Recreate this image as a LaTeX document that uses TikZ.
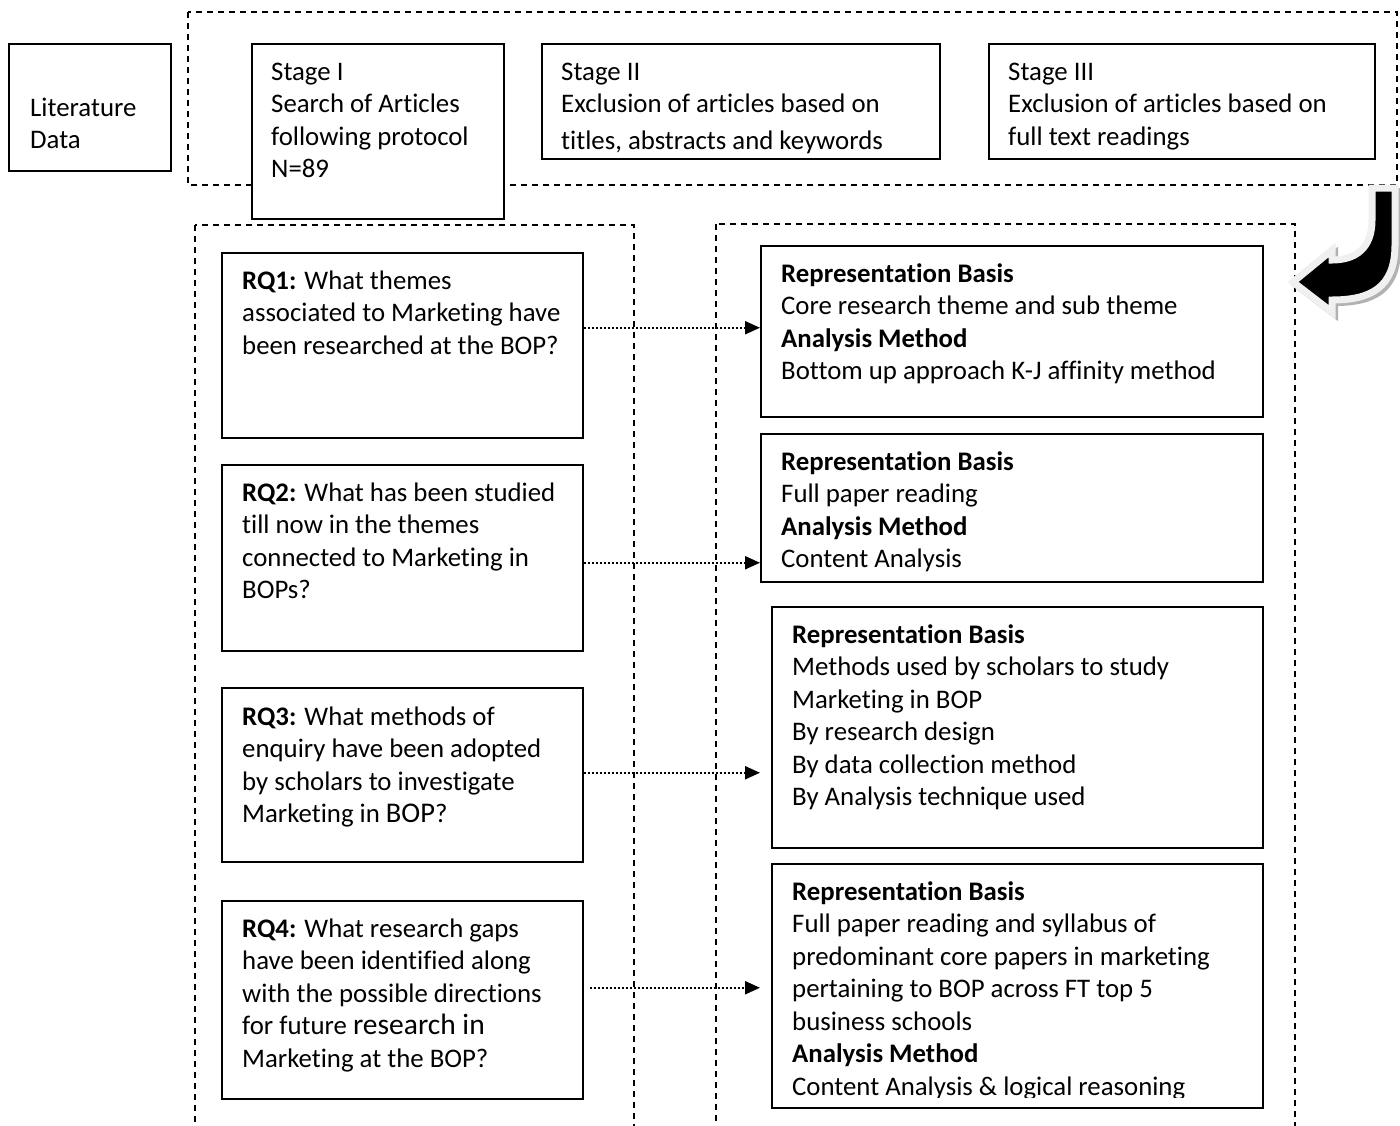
\documentclass[tikz,border=0pt]{standalone}
\usepackage{fontspec}
\setmainfont{Carlito}[Ligatures=NoCommon]
\usetikzlibrary{arrows.meta}

\newcommand{\boxlines}[1]{\begin{tabular}[t]{@{}l@{}}#1\end{tabular}}

\tikzset{
  box/.style={draw, line width=1.5pt, fill=white, anchor=north west, inner sep=0pt},
  txt/.style={anchor=base west, inner sep=0pt, yshift=-2pt, font=\fontsize{26.8}{32.5}\selectfont},
  zone/.style={draw, line width=1.4pt, dash pattern=on 6pt off 5pt},
  dotarrow/.style={line width=2.2pt, dash pattern=on 2pt off 2pt, -{Triangle[length=15pt,width=13pt]}},
}

\begin{document}
\begin{tikzpicture}[x=1pt, y=1pt]
  \useasboundingbox (0,0) rectangle (1400,-1125);

  % dashed zones
  \draw[zone] (188,-12) rectangle (1397,-185);
  \draw[zone] (195,-225) rectangle (634,-1140);
  \draw[zone] (716,-224) rectangle (1295,-1140);

  % top row
  \node[box, minimum width=162, minimum height=127] (lit) at (8,-43) {};
  \node[txt] (littxt) at (30,-114) {\boxlines{Literature\\Data}};
  \node[box, minimum width=252, minimum height=175] (stage1) at (251,-43) {};
  \node[txt] (stage1txt) at (271,-78) {\boxlines{Stage I\\Search of Articles\\following protocol\\N=89}};
  \node[box, minimum width=398, minimum height=115] (stage2) at (541,-43) {};
  \begin{scope}
    \clip (541,-43) rectangle (939,-156);
    \node[txt] (stage2txt) at (561,-78) {\boxlines{Stage II\\Exclusion of articles based on\\[4pt]titles, abstracts and keywords}};
  \end{scope}
  \node[box, minimum width=386, minimum height=115] (stage3) at (988,-43) {};
  \node[txt] (stage3txt) at (1008,-78) {\boxlines{Stage III\\Exclusion of articles based on\\full text readings}};

  % research questions
  \node[box, minimum width=361, minimum height=185] (rq1) at (221,-252) {};
  \node[txt] (rq1txt) at (242,-287) {\boxlines{\textbf{RQ1:} What themes\\associated to Marketing have\\been researched at the BOP?}};
  \node[box, minimum width=361, minimum height=186] (rq2) at (221,-464) {};
  \node[txt] (rq2txt) at (242,-499) {\boxlines{\textbf{RQ2:} What has been studied\\till now in the themes\\connected to Marketing in\\BOPs?}};
  \node[box, minimum width=361, minimum height=174] (rq3) at (221,-687) {};
  \node[txt] (rq3txt) at (242,-723) {\boxlines{\textbf{RQ3:} What methods of\\enquiry have been adopted\\by scholars to investigate\\Marketing in {\fontsize{28.5}{32.5}\selectfont BOP}?}};
  \node[box, minimum width=361, minimum height=198] (rq4) at (221,-900) {};
  \node[txt] (rq4txt) at (242,-935) {\boxlines{\textbf{RQ4:} What research gaps\\have been identified along\\with the possible directions\\for future {\fontsize{29.5}{32.5}\selectfont research in}\\Marketing at the BOP?}};

  % representation / analysis
  \node[box, minimum width=502, minimum height=171] (r1) at (760,-245) {};
  \node[txt] (r1txt) at (781,-280) {\boxlines{\textbf{Representation Basis}\\Core research theme and sub theme\\\textbf{Analysis Method}\\Bottom up approach K-J affinity method}};
  \node[box, minimum width=502, minimum height=148] (r2) at (760,-433) {};
  \node[txt] (r2txt) at (781,-468) {\boxlines{\textbf{Representation Basis}\\Full paper reading\\\textbf{Analysis Method}\\Content Analysis}};
  \node[box, minimum width=491, minimum height=241] (r3) at (771,-606) {};
  \node[txt] (r3txt) at (792,-641) {\boxlines{\textbf{Representation Basis}\\Methods used by scholars to study\\Marketing in BOP\\By research design\\By data collection method\\By Analysis technique used}};
  \node[box, minimum width=491, minimum height=244] (r4) at (771,-863) {};
  \begin{scope}
    \clip (771,-863) rectangle (1262,-1097);
    \node[txt] (r4txt) at (792,-898) {\boxlines{\textbf{Representation Basis}\\Full paper reading and syllabus of\\predominant core papers in marketing\\pertaining to BOP across FT top 5\\business schools\\\textbf{Analysis Method}\\Content Analysis \& logical reasoning}};
  \end{scope}

  % dotted links
  \draw[dotarrow] ([yshift=17.5]rq1.east) coordinate (a1) -- (a1 -| r1.west);
  \draw[dotarrow] ([yshift=-5]rq2.east) coordinate (a2) -- (a2 -| r2.west);
  \draw[dotarrow] ([yshift=2]rq3.east) coordinate (a3) -- ([xshift=-11]a3 -| r3.west);
  \draw[dotarrow] ([xshift=6,yshift=12]rq4.east) coordinate (a4) -- ([xshift=-11]a4 -| r4.west);

  % bent block arrow
  \fill[gray!60, draw=gray!60, line width=6pt, shift={(3,-3)}]
    (1372,-188) -- (1395,-188) -- (1395,-245) .. controls (1395,-288) and (1370,-300) .. (1332,-300)
    -- (1332,-312) -- (1293,-282) -- (1332,-250) -- (1332,-260)
    .. controls (1356,-260) and (1372,-248) .. (1372,-220) -- cycle;
  \filldraw[fill=black, draw=gray!12, line width=7pt, line join=miter]
    (1372,-188) -- (1395,-188) -- (1395,-245) .. controls (1395,-288) and (1370,-300) .. (1332,-300)
    -- (1332,-312) -- (1293,-282) -- (1332,-250) -- (1332,-260)
    .. controls (1356,-260) and (1372,-248) .. (1372,-220) -- cycle;
\end{tikzpicture}
\end{document}
